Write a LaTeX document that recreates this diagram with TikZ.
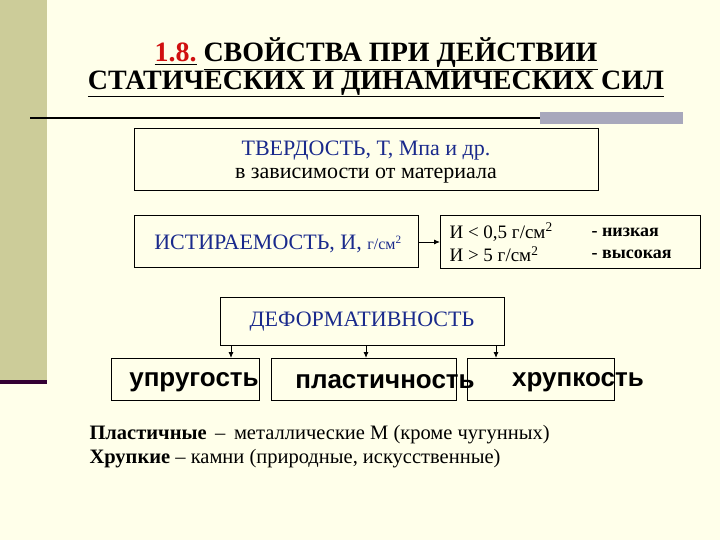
\documentclass[tikz,border=0pt]{standalone}
\usepackage{fontspec}
\setmainfont{Liberation Serif}
\newfontfamily\arialf{Liberation Sans}
\usetikzlibrary{arrows.meta}
\definecolor{bgc}{HTML}{FFFFEA}
\definecolor{barc}{HTML}{CCCC99}
\definecolor{purp}{HTML}{330033}
\definecolor{grayb}{HTML}{A8A8BC}
\definecolor{tblue}{HTML}{1A2A8C}
\definecolor{tred}{HTML}{D01010}
\begin{document}
\begin{tikzpicture}[x=1pt,y=-1pt,
  box/.style={draw=black,line width=0.8pt},
  arr/.style={-{Latex[length=6pt,width=5pt]},line width=0.9pt},
  bigtxt/.style={font=\fontsize{22}{26}\selectfont},
  wtxt/.style={font=\arialf\bfseries\fontsize{26}{30}\selectfont}]
\useasboundingbox (0,0) rectangle (720,540);
\fill[bgc] (0,0) rectangle (720,540);
\fill[barc] (0,0) rectangle (47,380);
\fill[purp] (0,380) rectangle (47,384);
% title
\node[font=\bfseries\fontsize{28}{32}\selectfont] (t1) at (376,54) {\underline{\textcolor{tred}{1.8.}} \underline{СВОЙСТВА ПРИ ДЕЙСТВИИ}};
\node[font=\bfseries\fontsize{28}{32}\selectfont] (t2) at (376,84) {\underline{СТАТИЧЕСКИХ И ДИНАМИЧЕСКИХ СИЛ}};
\draw[line width=2pt] (30,118) -- (540,118);
\fill[grayb] (540,112) rectangle (683,124);
% boxes
\draw[box] (134,128) rectangle (598,190);
\node[bigtxt,text=tblue] (b1a) at (366,151) {ТВЕРДОСТЬ, Т, Мпа и др.};
\node[bigtxt] (b1b) at (366,176) {в зависимости от материала};
\draw[box] (134,215) rectangle (418,267);
\node[bigtxt,text=tblue] (b2) at (278,244) {ИСТИРАЕМОСТЬ, И, {\fontsize{16}{19}\selectfont г/см\textsuperscript{2}}};
\draw[box] (440,215) rectangle (700,268);
\coordinate (b2r) at (418,242);
\coordinate (b3l) at (440,242);
\draw[arr] (b2r) -- (b3l);
\node[font=\fontsize{19}{22}\selectfont,anchor=west] (c1) at (446,232) {И < 0,5 г/см\textsuperscript{2}};
\node[font=\fontsize{19}{22}\selectfont,anchor=west] (c2) at (446,254) {И > 5 г/см\textsuperscript{2}};
\node[font=\bfseries\fontsize{18}{21}\selectfont,anchor=west] (c3) at (588,232) {- низкая};
\node[font=\bfseries\fontsize{18}{21}\selectfont,anchor=west] (c4) at (588,254) {- высокая};
\draw[box] (220,297) rectangle (504,345);
\node[bigtxt,text=tblue] (d) at (362,322) {ДЕФОРМАТИВНОСТЬ};
\draw[box] (111,358) rectangle (259,400);
\draw[box] (271,358) rectangle (456,400);
\draw[box] (467,358) rectangle (614,400);
\node[wtxt] (u) at (194,382) {упругость};
\node[wtxt] (p) at (385,382) {пластичность};
\node[wtxt] (h) at (578,382) {хрупкость};
\foreach \xx in {231,366,496}{\draw[arr] (\xx,345) -- (\xx,358);}
\node[font=\fontsize{20.5}{24}\selectfont,anchor=west] (l1) at (86,435) {\textbf{Пластичные}\, –\, металлические М (кроме чугунных)};
\node[font=\fontsize{20.5}{24}\selectfont,anchor=west] (l2) at (86,459) {\textbf{Хрупкие} – камни (природные, искусственные)};
\end{tikzpicture}
\end{document}
